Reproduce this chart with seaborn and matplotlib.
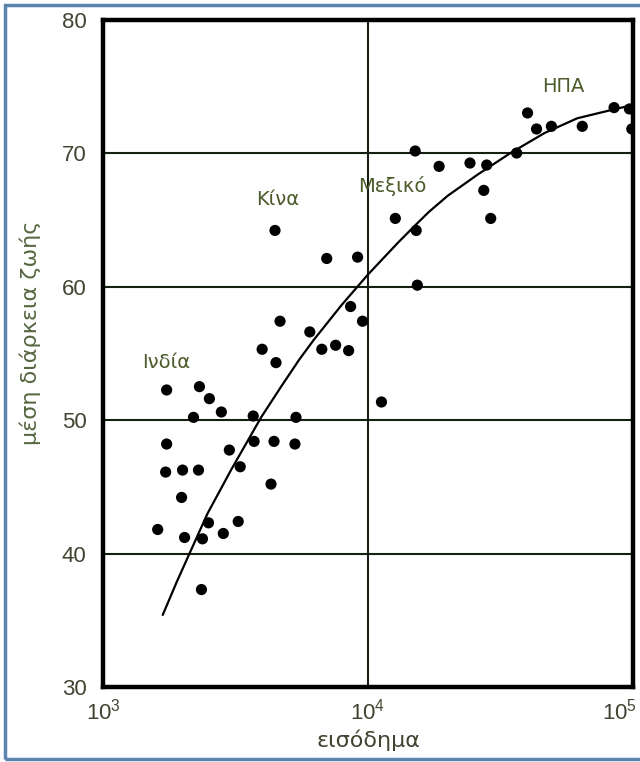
import matplotlib
matplotlib.use('Agg')
import matplotlib.pyplot as plt
import matplotlib.patches as patches
import matplotlib.transforms as mtransforms
import pandas as pd
import seaborn as sns

# points (income, life expectancy)
income = [1608, 1723, 1996, 2292, 1738, 1738, 1979, 2031, 2373, 2352,
          2195, 2311, 2520, 2796, 2500, 2844, 3237, 2997, 3294, 3688,
          3716, 4419, 4305, 3985, 4495, 4457, 4656, 5348, 5300, 6030,
          6693, 7548, 8450, 6986, 9136, 8596, 9535, 11240, 12680, 15070,
          15200, 15350, 18550, 24260, 28060, 27350, 29050, 36390, 40010, 43260,
          49220, 64370, 84860, 97000, 99000]
life = [41.8, 46.1, 46.25, 46.25, 48.2, 52.25, 44.2, 41.2, 41.1, 37.3,
        50.2, 52.5, 51.6, 50.6, 42.3, 41.5, 42.4, 47.75, 46.5, 50.3,
        48.4, 48.4, 45.2, 55.3, 54.3, 64.2, 57.4, 50.2, 48.2, 56.6,
        55.3, 55.6, 55.2, 62.1, 62.2, 58.5, 57.4, 51.35, 65.1, 70.15,
        64.2, 60.1, 69.0, 69.25, 69.1, 67.2, 65.1, 70.0, 73.0, 71.8,
        72.0, 72.0, 73.4, 73.3, 71.8]

# trend curve
curve_income = [1680, 1900, 2120, 2480, 3050, 3950, 4700, 5490, 6240, 7940,
                10000, 13000, 15100, 17000, 20000, 26000, 34500, 46400, 61600,
                82000, 100000]
curve_life = [35.4, 37.9, 40.0, 43.0, 46.3, 50.2, 52.5, 54.5, 56.0, 58.6,
              60.9, 63.3, 64.6, 65.6, 66.8, 68.4, 70.0, 71.5, 72.6,
              73.2, 73.6]

labels = ['Ινδία', 'Κίνα', 'Μεξικό', 'ΗΠΑ']
label_x = [1738, 4575, 12360, 54600]
label_y = [54.3, 66.5, 67.5, 75.0]

sns.set_style('white')
plt.rcParams['font.family'] = ['Liberation Sans', 'DejaVu Sans']

text_color = '#3f4530'
label_color = '#4d5a2a'

fig = plt.figure(figsize=(6.4, 7.62), dpi=100)
ax = fig.add_axes([0.161, 0.0984, 0.828, 0.876])

points = pd.DataFrame({'income': income, 'life': life})
curve = pd.DataFrame({'income': curve_income, 'life': curve_life})

sns.lineplot(data=curve, x='income', y='life', color='black', linewidth=1.6,
             sort=False, ax=ax, zorder=3)
sns.scatterplot(data=points, x='income', y='life', color='black', s=65,
                edgecolor='none', ax=ax, zorder=4)

ax.set_xscale('log')
ax.set_xlim(1000, 100000)
ax.set_ylim(30, 80)
ax.set_xticks([1000, 10000, 100000])
ax.set_yticks([30, 40, 50, 60, 70, 80])
ax.minorticks_off()

for v in [40, 50, 60, 70]:
    ax.axhline(v, color='#142010', linewidth=1.5, zorder=1)
ax.axvline(10000, color='#142010', linewidth=1.5, zorder=1)

for s in ax.spines.values():
    s.set_linewidth(3.2)
    s.set_color('black')

ax.tick_params(axis='both', length=0, labelsize=16, colors=text_color)
ax.tick_params(axis='y', pad=12)
ax.tick_params(axis='x', pad=8)

# last x label sits at the right edge; nudge it inwards a little
last = ax.get_xticklabels()[-1]
last.set_transform(last.get_transform() +
                   mtransforms.ScaledTranslation(-10 / 72, 0, fig.dpi_scale_trans))

ax.set_xlabel('εισόδημα', fontsize=16, color=text_color, labelpad=4,
              family=['DejaVu Sans'])
ax.set_ylabel('μέση διάρκεια ζωής', fontsize=16, color='#556640',
              family=['DejaVu Sans'])
ax.yaxis.set_label_coords(-0.118, 0.53)

for name, lx, ly in zip(labels, label_x, label_y):
    ax.text(lx, ly, name, fontsize=14, color=label_color, ha='center', va='center',
            family=['DejaVu Sans'])

# blue frame around the whole figure
frame = patches.Rectangle((0.008, 0.004), 1.2, 0.99, transform=fig.transFigure,
                          fill=False, edgecolor='#5b84b1', linewidth=2.5)
fig.patches.append(frame)

fig.savefig('out.png', dpi=100)
